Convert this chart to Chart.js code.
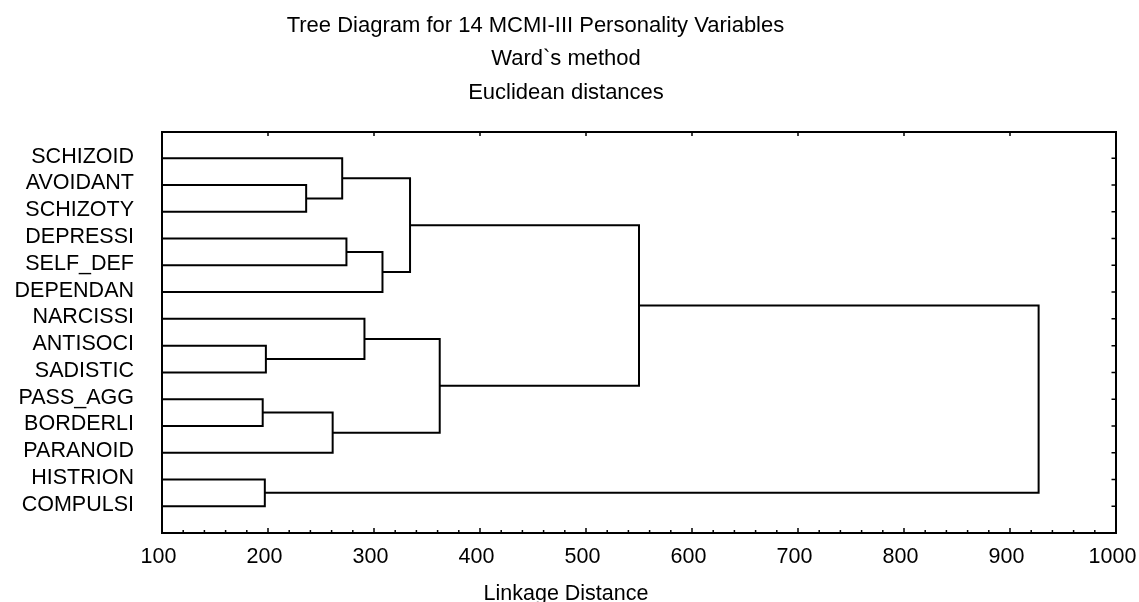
<!DOCTYPE html>
<html>
<head>
<meta charset="utf-8">
<title>Tree Diagram</title>
<script src="https://cdn.jsdelivr.net/npm/chart.js@4.4.0/dist/chart.umd.min.js"></script>
<style>
  html, body { margin: 0; padding: 0; background: #fff; }
  #wrap { width: 1139px; height: 602px; position: relative; }
</style>
</head>
<body>
<div id="wrap"><canvas id="tree"></canvas></div>
<script>
// variables, top to bottom as they sit in the tree
const leafNames = ['SCHIZOID', 'AVOIDANT', 'SCHIZOTY', 'DEPRESSI', 'SELF_DEF', 'DEPENDAN', 'NARCISSI',
	'ANTISOCI', 'SADISTIC', 'PASS_AGG', 'BORDERLI', 'PARANOID', 'HISTRION', 'COMPULSI']

// Ward joins: ids 0-13 are the variables, join i makes cluster 14 + i
const mergeLeft = [9, 12, 7, 1, 14, 0, 3, 6, 20, 19, 21, 23, 25]
const mergeRight = [10, 13, 8, 2, 11, 17, 4, 16, 5, 22, 18, 24, 15]
const mergeDist = [195, 197, 198, 236, 261, 270, 274, 291, 308, 334, 362, 550, 927]

const distTicks = [100, 200, 300, 400, 500, 600, 700, 800, 900, 1000]
const titleLines = ['Tree Diagram for 14 MCMI-III Personality Variables          ', 'Ward`s method', 'Euclidean distances']
const axisTitle = 'Linkage Distance'

const FONT = "'Liberation Sans', Arial, sans-serif"
Chart.defaults.font.family = FONT
Chart.defaults.color = '#000'

/* build one bracket per join: left child -> join height -> right child */
const nodeX = leafNames.map(() => 0)
const nodeY = leafNames.map((name, i) => i + 1)
const datasets = mergeDist.map((dist, i) => {
	const a = mergeLeft[i]
	const b = mergeRight[i]
	const data = [
		{ x: nodeX[a], y: nodeY[a] },
		{ x: dist, y: nodeY[a] },
		{ x: dist, y: nodeY[b] },
		{ x: nodeX[b], y: nodeY[b] }
	]
	nodeX.push(dist)
	nodeY.push((nodeY[a] + nodeY[b]) / 2)
	return {
		data,
		showLine: true,
		borderColor: '#000',
		borderWidth: 2,
		pointRadius: 0,
		tension: 0,
		xAxisID: 'x',
		yAxisID: 'y'
	}
})

// inward tick marks on the frame
const innerTicks = {
	id: 'innerTicks',
	afterDraw(chart) {
		const { ctx, chartArea: { top, bottom, right }, scales: { x, y } } = chart
		ctx.save()
		ctx.strokeStyle = '#000'
		ctx.lineWidth = 1.5
		ctx.beginPath()
		for (let v = distTicks[0]; v <= distTicks[distTicks.length - 1]; v += 20) {
			const px = x.getPixelForValue(v)
			const major = v % 100 === 0
			ctx.moveTo(px, bottom)
			ctx.lineTo(px, bottom - (major ? 5 : 3))
			if (major) {
				ctx.moveTo(px, top)
				ctx.lineTo(px, top + 4.5)
			}
		}
		leafNames.forEach((name, i) => {
			const py = y.getPixelForValue(i + 1)
			ctx.moveTo(right, py)
			ctx.lineTo(right - 4.5, py)
		})
		ctx.stroke()
		ctx.restore()
	}
}

const frame = { display: true, color: '#000', width: 2 }
const noGrid = { drawOnChartArea: false, drawTicks: false }
// keep the end labels from pushing the frame inwards
const noEdgePad = (scale) => {
	scale.paddingLeft = 0
	scale.paddingRight = 0
}

new Chart('tree', {
	type: 'scatter',
	data: { datasets },
	plugins: [innerTicks],
	options: {
		responsive: true,
		maintainAspectRatio: false,
		animation: false,
		layout: { padding: { top: 0, left: 0, right: 7, bottom: 0 } },
		plugins: {
			legend: { display: false },
			tooltip: { enabled: false },
			title: {
				display: true,
				text: titleLines,
				color: '#000',
				font: { size: 22, weight: 'normal', lineHeight: 33.5 / 22 },
				padding: { top: 9, bottom: 22 }
			},
			subtitle: {
				display: true,
				position: 'bottom',
				text: axisTitle,
				color: '#000',
				font: { size: 21.5, weight: 'normal', lineHeight: 16 / 21.5 },
				padding: { top: 0, bottom: 0 }
			}
		},
		scales: {
			x: {
				type: 'linear',
				position: 'bottom',
				min: distTicks[0],
				max: distTicks[distTicks.length - 1],
				ticks: {
					stepSize: 100,
					padding: 11,
					labelOffset: -3.5,
					maxRotation: 0,
					font: { size: 21.5 },
					callback: (value) => String(value)
				},
				grid: noGrid,
				border: frame,
				afterFit: (scale) => {
					scale.height = 53
					noEdgePad(scale)
				}
			},
			x2: {
				type: 'linear',
				position: 'top',
				min: distTicks[0],
				max: distTicks[distTicks.length - 1],
				ticks: { display: false },
				grid: noGrid,
				border: frame,
				afterFit: (scale) => {
					scale.height = 0
					noEdgePad(scale)
				}
			},
			y: {
				type: 'linear',
				position: 'left',
				reverse: true,
				min: 0,
				max: leafNames.length + 1,
				afterBuildTicks: (scale) => {
					scale.ticks = leafNames.map((name, i) => ({ value: i + 1 }))
				},
				ticks: {
					autoSkip: false,
					padding: 28,
					labelOffset: -1.5,
					font: { size: 21.5 },
					callback: (value) => leafNames[value - 1]
				},
				grid: noGrid,
				border: frame,
				afterFit: (scale) => { scale.width = 162 }
			},
			y2: {
				type: 'linear',
				position: 'right',
				min: 0,
				max: leafNames.length + 1,
				ticks: { display: false },
				grid: noGrid,
				border: frame,
				afterFit: (scale) => { scale.width = 16 }
			}
		}
	}
})
</script>
</body>
</html>
